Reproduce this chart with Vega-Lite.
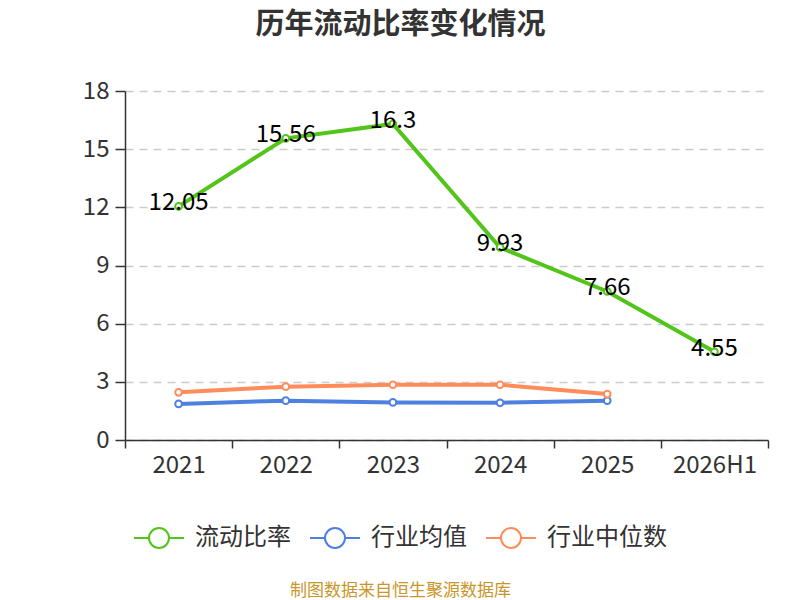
{
  "$schema": "https://vega.github.io/schema/vega-lite/v6.json",
  "width": 643,
  "height": 349,
  "autosize": {"type": "none"},
  "padding": {"left": 125, "top": 91, "right": 32, "bottom": 160},
  "background": "white",
  "config": {"font": "Noto Sans CJK SC", "view": {"stroke": null}},
  "title": {
    "text": "历年流动比率变化情况",
    "fontSize": 29,
    "fontWeight": "bold",
    "color": "#333333",
    "anchor": "middle",
    "dx": -46,
    "offset": 39
  },
  "data": {
    "values": [
      {"year": "2021", "series": "流动比率", "value": 12.05},
      {"year": "2022", "series": "流动比率", "value": 15.56},
      {"year": "2023", "series": "流动比率", "value": 16.3},
      {"year": "2024", "series": "流动比率", "value": 9.93},
      {"year": "2025", "series": "流动比率", "value": 7.66},
      {"year": "2026H1", "series": "流动比率", "value": 4.55},
      {"year": "2021", "series": "行业均值", "value": 1.86},
      {"year": "2022", "series": "行业均值", "value": 2.03},
      {"year": "2023", "series": "行业均值", "value": 1.94},
      {"year": "2024", "series": "行业均值", "value": 1.92},
      {"year": "2025", "series": "行业均值", "value": 2.03},
      {"year": "2021", "series": "行业中位数", "value": 2.46},
      {"year": "2022", "series": "行业中位数", "value": 2.75},
      {"year": "2023", "series": "行业中位数", "value": 2.85},
      {"year": "2024", "series": "行业中位数", "value": 2.85},
      {"year": "2025", "series": "行业中位数", "value": 2.37}
    ]
  },
  "encoding": {
    "x": {
      "field": "year",
      "type": "ordinal",
      "sort": ["2021", "2022", "2023", "2024", "2025", "2026H1"],
      "scale": {"type": "band", "paddingInner": 0, "paddingOuter": 0},
      "axis": {
        "title": "制图数据来自恒生聚源数据库",
        "titleColor": "#c9962b",
        "titleFontSize": 17,
        "titleFontWeight": "normal",
        "titleX": 275,
        "titleY": 150,
        "titleBaseline": "middle",
        "titleAlign": "center",
        "labelAngle": 0,
        "labelFontSize": 24,
        "labelColor": "#333333",
        "labelPadding": 5,
        "tickBand": "extent",
        "tickSize": 8,
        "tickColor": "#333333",
        "tickWidth": 1.5,
        "domainColor": "#333333",
        "domainWidth": 1.5,
        "grid": false
      }
    },
    "y": {
      "field": "value",
      "type": "quantitative",
      "scale": {"domain": [0, 18]},
      "axis": {
        "title": null,
        "values": [0, 3, 6, 9, 12, 15, 18],
        "labelFontSize": 24,
        "labelColor": "#333333",
        "labelPadding": 6,
        "tickSize": 10,
        "tickColor": "#333333",
        "tickWidth": 1.5,
        "domainColor": "#333333",
        "domainWidth": 1.5,
        "gridColor": "#cccccc",
        "gridDash": [8, 6],
        "gridWidth": 1.5
      }
    }
  },
  "layer": [
    {
      "mark": {
        "type": "line",
        "strokeWidth": 4,
        "point": {"filled": false, "fill": "white", "size": 45, "strokeWidth": 2}
      },
      "encoding": {
        "color": {
          "field": "series",
          "type": "nominal",
          "scale": {
            "domain": ["流动比率", "行业均值", "行业中位数"],
            "range": ["#52c41a", "#4e80e0", "#ff8c5a"]
          },
          "legend": {
            "orient": "none",
            "legendX": 8,
            "legendY": 421,
            "direction": "horizontal",
            "title": null,
            "symbolType": "M-1,0H-0.4M0.4,0H1M-0.4,0A0.4,0.4,0,1,0,0.4,0A0.4,0.4,0,1,0,-0.4,0",
            "symbolSize": 2500,
            "symbolStrokeWidth": 2,
            "symbolFillColor": "white",
            "labelFontSize": 24,
            "labelColor": "#333333",
            "labelOffset": 10,
            "columnPadding": 15
          }
        }
      }
    },
    {
      "transform": [{"filter": "datum.series === '流动比率'"}],
      "mark": {"type": "text", "fontSize": 24, "color": "black", "dy": -3},
      "encoding": {
        "text": {"field": "value", "type": "nominal"}
      }
    }
  ]
}
